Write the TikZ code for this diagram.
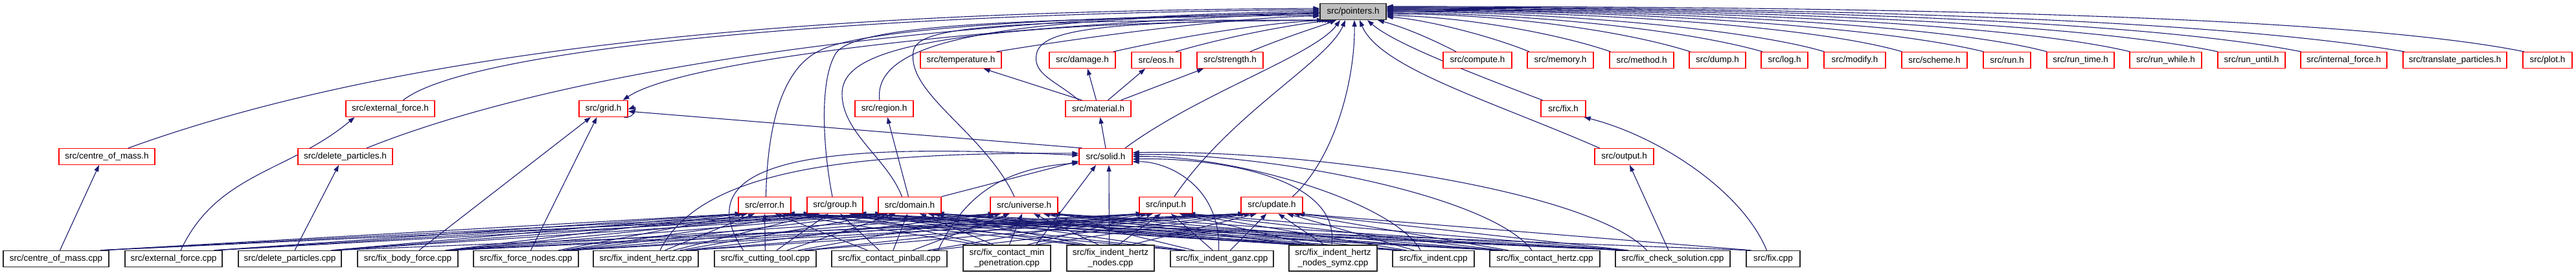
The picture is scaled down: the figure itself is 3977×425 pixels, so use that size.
\documentclass[tikz,border=0pt]{standalone}
\usepackage{fontspec}
\setmainfont{Liberation Sans}
\usetikzlibrary{arrows.meta,calc,backgrounds}
\definecolor{mblue}{HTML}{191970}
\tikzset{
  box/.style={draw, line width=1.3pt, fill=white, inner sep=0pt, minimum height=25pt,
    font=\fontsize{13.5}{15.5}\selectfont, align=center},
  hdr/.style={box, draw=red},
  cpp/.style={box, draw=black!85},
  cpptwo/.style={cpp, minimum height=40pt},
  ptrs/.style={box, draw=black!85, fill=black!25},
  mw/.style={minimum width=#1pt},
  e/.style={draw=mblue, line width=1.1pt, -{Triangle[length=10pt,width=7pt]}}
}
\newcommand\cedge[2]{%
  \pgfpointanchor{#1}{center}\pgfgetlastxy{\myCx}{\myCy}%
  \pgfpointanchor{#2}{center}\pgfgetlastxy{\myHx}{\myHy}%
  \pgfmathsetmacro\myDd{(\myHx-\myCx)/400}%
  \pgfmathsetmacro\myTs{0.5+0.42*tanh(\myDd)}%
  \pgfmathsetmacro\myTh{0.5-0.44*tanh(\myDd)}%
  \draw[e] ($(#1.north west)!\myTs!(#1.north east)$) -- ($(#2.south west)!\myTh!(#2.south east)$);%
}
\begin{document}
\begin{tikzpicture}[x=1pt,y=1pt]
\useasboundingbox (0,0) rectangle (3977,425);
% top
\node[ptrs,mw=102] (ptr) at (2089,407) {src/pointers.h};
% row 2
\node[hdr,mw=125] (temp) at (1483.5,332) {src/temperature.h};
\node[hdr,mw=102] (dmg) at (1671,332) {src/damage.h};
\node[hdr,mw=76] (eos) at (1785,332) {src/eos.h};
\node[hdr,mw=102] (str) at (1899,332) {src/strength.h};
\node[hdr,mw=106] (comp) at (2281,332) {src/compute.h};
\node[hdr,mw=102] (mem) at (2409,332) {src/memory.h};
\node[hdr,mw=99] (meth) at (2534.5,332) {src/method.h};
\node[hdr,mw=87] (dump) at (2651.5,332) {src/dump.h};
\node[hdr,mw=72] (logh) at (2755,332) {src/log.h};
\node[hdr,mw=95] (mod) at (2863.5,332) {src/modify.h};
\node[hdr,mw=101] (sch) at (2986.5,332) {src/scheme.h};
\node[hdr,mw=73] (run) at (3098.5,332) {src/run.h};
\node[hdr,mw=104] (runt) at (3212,332) {src/run\_time.h};
\node[hdr,mw=111] (runw) at (3343.5,332) {src/run\_while.h};
\node[hdr,mw=104] (runu) at (3476,332) {src/run\_until.h};
\node[hdr,mw=133] (intf) at (3618.5,332) {src/internal\_force.h};
\node[hdr,mw=160] (trans) at (3790,332) {src/translate\_particles.h};
\node[hdr,mw=76] (plot) at (3933,332) {src/plot.h};
% row 3
\node[hdr,mw=137] (extf) at (602.5,257) {src/external\_force.h};
\node[hdr,mw=75] (grid) at (931.5,257) {src/grid.h};
\node[hdr,mw=90] (region) at (1365,257) {src/region.h};
\node[hdr,mw=101] (mat) at (1695.5,257) {src/material.h};
\node[hdr,mw=69] (fixh) at (2413.5,257) {src/fix.h};
% row 4
\node[hdr,mw=148] (comh) at (165,183) {src/centre\_of\_mass.h};
\node[hdr,mw=146] (delh) at (533,183) {src/delete\_particles.h};
\node[hdr,mw=82] (solid) at (1707,183) {src/solid.h};
\node[hdr,mw=91] (outh) at (2507.5,183) {src/output.h};
% row 5
\node[hdr,mw=81] (err) at (1180.5,108) {src/error.h};
\node[hdr,mw=86] (grp) at (1289,108) {src/group.h};
\node[hdr,mw=97] (dom) at (1404.5,108) {src/domain.h};
\node[hdr,mw=104] (uni) at (1581,108) {src/universe.h};
\node[hdr,mw=82] (inp) at (1800,108) {src/input.h};
\node[hdr,mw=95] (upd) at (1963.5,108) {src/update.h};
% bottom row
\node[cpp,mw=163] (comc) at (86.5,25) {src/centre\_of\_mass.cpp};
\node[cpp,mw=150] (extc) at (268,25) {src/external\_force.cpp};
\node[cpp,mw=159] (delc) at (447.5,25) {src/delete\_particles.cpp};
\node[cpp,mw=155] (fbf) at (629.5,25) {src/fix\_body\_force.cpp};
\node[cpp,mw=162] (ffn) at (812,25) {src/fix\_force\_nodes.cpp};
\node[cpp,mw=162] (fih) at (997,25) {src/fix\_indent\_hertz.cpp};
\node[cpp,mw=157] (fct) at (1181.5,25) {src/fix\_cutting\_tool.cpp};
\node[cpp,mw=178] (fcp) at (1373,25) {src/fix\_contact\_pinball.cpp};
\node[cpptwo,mw=135] (fcmp) at (1554.5,26) {src/fix\_contact\_min\\\_penetration.cpp};
\node[cpptwo,mw=135] (fihn) at (1714.5,26) {src/fix\_indent\_hertz\\\_nodes.cpp};
\node[cpp,mw=159] (fig) at (1886.5,25) {src/fix\_indent\_ganz.cpp};
\node[cpptwo,mw=136] (fihns) at (2058,26) {src/fix\_indent\_hertz\\\_nodes\_symz.cpp};
\node[cpp,mw=126] (fi) at (2213,25) {src/fix\_indent.cpp};
\node[cpp,mw=170] (fch) at (2385,25) {src/fix\_contact\_hertz.cpp};
\node[cpp,mw=177] (fcs) at (2582.5,25) {src/fix\_check\_solution.cpp};
\node[cpp,mw=83] (fixc) at (2737.5,25) {src/fix.cpp};

\begin{scope}[on background layer]
% headers -> pointers.h
\draw[e] ([xshift=33]comh.north) .. controls (650,360) and (1300,408) .. ([yshift=5]ptr.west);
\draw[e] ([xshift=20]extf.north) .. controls (720,348) and (1300,404) .. ([yshift=3]ptr.west);
\draw[e] ([xshift=33]delh.north) .. controls (900,330) and (1500,398) .. ([yshift=1]ptr.west);
\draw[e] ([yshift=-2]ptr.west) .. controls (1500,385) and (1050,330) .. ([xshift=-8]grid.north east);
\draw[e] ([xshift=-7]region.north) .. controls (1345,375) and (1600,396) .. ([yshift=-1]ptr.west);
\draw[e] ([xshift=2]err.north) .. controls (1185,250) and (1215,320) .. (1262,345)
  .. controls (1330,385) and (1700,400) .. ([yshift=-3]ptr.west);
\draw[e] ([xshift=-4]grp.north) .. controls (1270,200) and (1265,300) .. (1290,342)
  .. controls (1320,390) and (1600,395) .. ([yshift=-5]ptr.west);
\draw[e] ([xshift=-12]dom.north) .. controls (1370,180) and (1300,220) .. (1300,280)
  .. controls (1300,340) and (1400,390) .. ([xshift=-46]ptr.south);
\draw[e] ([xshift=-15]uni.north) .. controls (1520,220) and (1400,280) .. (1410,345)
  .. controls (1415,380) and (1500,395) .. ([xshift=-42]ptr.south);
\draw[e] ([xshift=55]temp.north) .. controls (1750,380) and (1950,400) .. ([yshift=-7]ptr.west);
\draw[e] ([xshift=-30]mat.north) .. controls (1630,300) and (1595,310) .. (1600,340)
  .. controls (1605,380) and (1700,392) .. ([xshift=-38]ptr.south);
\draw[e] ([xshift=48]dmg.north) .. controls (1850,375) and (1980,392) .. ([xshift=-34]ptr.south);
\draw[e] ([xshift=30]eos.north) .. controls (1900,370) and (2000,388) .. ([xshift=-30]ptr.south);
\draw[e] ([xshift=31]str.north) .. controls (1990,370) and (2040,385) .. ([xshift=-26]ptr.south);
\draw[e] ([xshift=30]solid.north) .. controls (1850,280) and (2030,340) .. ([xshift=-20]ptr.south);
\draw[e] ([xshift=13]inp.north) .. controls (1900,250) and (2050,330) .. ([xshift=-12]ptr.south);
\draw[e] ([xshift=32]upd.north) .. controls (2060,180) and (2092,300) .. ([xshift=2]ptr.south);
\draw[e] ([xshift=-38]outh.north) .. controls (2300,270) and (2130,320) .. ([xshift=10]ptr.south);
\draw[e] ([xshift=-32]fixh.north) .. controls (2250,320) and (2150,360) .. ([xshift=22]ptr.south);
\draw[e] ([xshift=-33]comp.north) .. controls (2200,370) and (2160,385) .. ([xshift=38]ptr.south);
\draw[e] ([xshift=-48]mem.north) .. controls (2300,370) and (2200,395) .. ([yshift=-8]ptr.east);
\draw[e] ([xshift=-48]meth.north) .. controls (2400,375) and (2250,400) .. ([yshift=-6]ptr.east);
\draw[e] ([xshift=-42]dump.north) .. controls (2500,380) and (2300,405) .. ([yshift=-4]ptr.east);
\draw[e] ([xshift=-34]logh.north) .. controls (2600,380) and (2350,405) .. ([yshift=-2]ptr.east);
\draw[e] ([xshift=-47]mod.north) .. controls (2700,380) and (2400,407) .. (ptr.east);
\draw[e] ([xshift=-50]sch.north) .. controls (2800,385) and (2450,408) .. ([yshift=1]ptr.east);
\draw[e] ([xshift=-36]run.north) .. controls (2900,385) and (2500,410) .. ([yshift=2]ptr.east);
\draw[e] ([xshift=-52]runt.north) .. controls (3000,388) and (2550,410) .. ([yshift=3]ptr.east);
\draw[e] ([xshift=-55]runw.north) .. controls (3100,390) and (2600,411) .. ([yshift=4]ptr.east);
\draw[e] ([xshift=-52]runu.north) .. controls (3200,392) and (2650,412) .. ([yshift=5]ptr.east);
\draw[e] ([xshift=-66]intf.north) .. controls (3300,395) and (2700,413) .. ([yshift=6]ptr.east);
\draw[e] ([xshift=-78]trans.north) .. controls (3400,398) and (2750,414) .. ([yshift=7]ptr.east);
\draw[e] ([xshift=-36]plot.north) .. controls (3600,405) and (2800,415) .. ([yshift=8]ptr.east);
% header to header
\draw[e] ([xshift=-25]mat.north) -- ([xshift=35]temp.south);
\draw[e] ([xshift=-3]mat.north) -- ([xshift=8]dmg.south);
\draw[e] ([xshift=15]mat.north) -- ([xshift=-17]eos.south);
\draw[e] ([xshift=35]mat.north) -- ([xshift=-41]str.south);
\draw[e] (solid.north) -- ([xshift=3]mat.south);
\draw[e] ([xshift=5]solid.north west) -- ([yshift=-4]grid.east);
\draw[e] ([xshift=-6]grid.south east) to[out=-10,in=20,looseness=3] ([yshift=-1]grid.east);
\draw[e] ([xshift=-2]dom.north) -- ([xshift=5]region.south);
\draw[e] (dom.north east) -- ([yshift=-7]solid.west);
% cpp to single headers
\draw[e] ([xshift=6]comc.north) -- ([xshift=-12]comh.south);
\draw[e] ([xshift=11]extc.north) to[out=65,in=-140] ([xshift=-55]extf.south);
\draw[e] ([xshift=7.5]delc.north) -- ([xshift=-10]delh.south);
\draw[e] ([xshift=17.5]fbf.north) -- ([xshift=-19.5]grid.south);
\draw[e] ([xshift=7.5]ffn.north) -- ([xshift=-10]grid.south);
\draw[e] ([xshift=-6.5]fcs.north) -- ([xshift=8.5]outh.south);
\draw[e] ([xshift=-10]fixc.north) .. controls (2690,130) and (2560,215) .. ([xshift=-3]fixh.south east);
% cpp -> solid.h
\draw[e] ([xshift=22]fih.north) .. controls (1080,160) and (1300,190) .. ([yshift=5]solid.west);
\draw[e] ([xshift=-34]fct.north) .. controls (1040,200) and (1350,200) .. ([yshift=2]solid.west);
\draw[e] ([xshift=75]fcp.north) .. controls (1485,115) and (1540,165) .. ([yshift=-10]solid.west);
\draw[e] ([xshift=45]fcmp.north) -- ([xshift=-15]solid.south);
\draw[e] ([xshift=-2]fihn.north) -- ([xshift=5]solid.south);
\draw[e] ([xshift=-5]fig.north) .. controls (1885,140) and (1800,176) .. ([yshift=-8]solid.east);
\draw[e] ([xshift=-2]fihns.north) .. controls (2070,160) and (1850,182) .. ([yshift=-4]solid.east);
\draw[e] ([xshift=-20]fi.north) .. controls (2150,115) and (1900,186) .. (solid.east);
\draw[e] ([xshift=-20]fch.north) .. controls (2300,125) and (1950,190) .. ([yshift=3]solid.east);
\draw[e] ([xshift=-40]fcs.north) .. controls (2450,135) and (2000,195) .. ([yshift=6]solid.east);
% cpp -> common headers
\foreach \h in {err,grp,dom} {\cedge{comc}{\h}}
\foreach \h in {err,grp,dom} {\cedge{extc}{\h}}
\foreach \h in {err,grp,dom,upd} {\cedge{delc}{\h}}
\foreach \h in {err,grp,dom,uni,inp,upd} {\cedge{fbf}{\h}}
\foreach \h in {err,grp,dom,uni,inp,upd} {\cedge{ffn}{\h}}
\foreach \h in {err,grp,dom,uni,inp,upd} {\cedge{fih}{\h}}
\foreach \h in {err,grp,dom,uni,inp,upd} {\cedge{fct}{\h}}
\foreach \h in {err,grp,dom,uni,inp,upd} {\cedge{fcp}{\h}}
\foreach \h in {err,grp,dom,uni,inp,upd} {\cedge{fcmp}{\h}}
\foreach \h in {err,grp,dom,uni,inp,upd} {\cedge{fihn}{\h}}
\foreach \h in {err,grp,dom,uni,inp,upd} {\cedge{fig}{\h}}
\foreach \h in {err,grp,dom,uni,inp,upd} {\cedge{fihns}{\h}}
\foreach \h in {err,grp,dom,uni,inp,upd} {\cedge{fi}{\h}}
\foreach \h in {err,grp,dom,uni,inp,upd} {\cedge{fch}{\h}}
\foreach \h in {err,grp,dom,uni,inp,upd} {\cedge{fcs}{\h}}
\foreach \h in {err,upd} {\cedge{fixc}{\h}}
\end{scope}
\end{tikzpicture}
\end{document}
